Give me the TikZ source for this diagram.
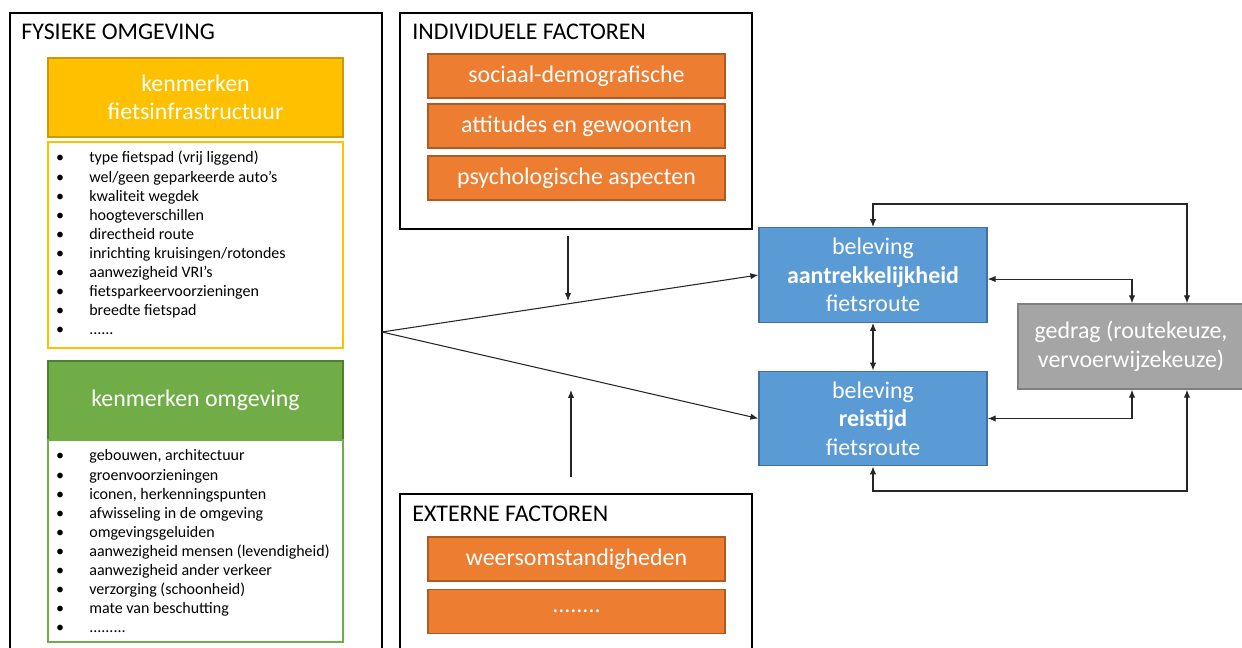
\documentclass[tikz,border=0pt]{standalone}
\usepackage{fontspec}
\setmainfont{Carlito}
\usetikzlibrary{fit,arrows.meta}
\definecolor{ylw}{HTML}{FFC000}
\definecolor{ylwb}{HTML}{C99A06}
\definecolor{grn}{HTML}{70AD47}
\definecolor{grnb}{HTML}{507E32}
\definecolor{org}{HTML}{ED7D31}
\definecolor{orgb}{HTML}{AE5A21}
\definecolor{blu}{HTML}{5B9BD5}
\definecolor{blub}{HTML}{41719C}
\definecolor{gry}{HTML}{A5A5A5}
\definecolor{gryb}{HTML}{7F7F7F}
\newcommand\mysixdots{......}
\newcommand\myninedots{.........}
\tikzset{
  big/.style={font=\fontsize{13.6}{16.2}\selectfont},
  small/.style={font=\fontsize{9.1}{10.9}\selectfont},
  frame/.style={draw=black, line width=1.1pt, fill=none, inner sep=0pt},
  colbox/.style={inner sep=0pt, line width=0.8pt, align=center, text=white, big},
  headbox/.style={colbox, minimum width=5.9cm, minimum height=1.58cm},
  orgbox/.style={colbox, fill=org, draw=orgb, minimum width=5.94cm, minimum height=0.88cm},
  blubox/.style={colbox, fill=blu, draw=blub, minimum width=4.56cm, minimum height=1.89cm},
  listbox/.style={inner sep=0pt, line width=0.9pt, fill=white},
  title/.style={anchor=base west, inner sep=0pt, big},
  conn/.style={line width=0.6pt, draw=black!85},
  tip/.style={-{Latex[length=4.5pt,width=3.6pt]}},
  tips/.style={{Latex[length=4.5pt,width=3.6pt]}-{Latex[length=4.5pt,width=3.6pt]}},
}
\begin{document}
\begin{tikzpicture}[x=0.02cm, y=-0.02cm]
\useasboundingbox (0,0) rectangle (1242,648);
\clip (0,0) rectangle (1242,648);
\fill[white] (0,0) rectangle (1242,648);

% outer frames
\node[frame, fit={(10,13)(382,700)}] (fys) {};
\node[frame, fit={(400,13)(752,229)}] (ind) {};
\node[frame, fit={(400,494)(752,700)}] (ext) {};
\node[title] (fyst) at (21,40) {FYSIEKE OMGEVING};
\node[title] (indt) at (412,40) {INDIVIDUELE FACTOREN};
\node[title] (extt) at (412,522) {EXTERNE FACTOREN};

% left column
\node[headbox, fill=ylw, draw=ylwb] (yh) at (195.5,97.5) {kenmerken\\fietsinfrastructuur};
\node[listbox, draw=ylw, fit={(48,142)(343,348)}] (yl) {};
\node[headbox, fill=grn, draw=grnb] (gh) at (195.5,400.5) {kenmerken omgeving};
\node[listbox, draw=grn, fit={(48,440)(343,642)}] (gl) {};

\foreach \t [count=\i] in {type fietspad (vrij liggend),
  wel/geen geparkeerde auto’s, kwaliteit wegdek, hoogteverschillen,
  directheid route, inrichting kruisingen/rotondes, aanwezigheid VRI’s,
  fietsparkeervoorzieningen, breedte fietspad, \mysixdots}{
  \node[small, anchor=base, inner sep=0pt] (yb\i) at (60,{163+19.05*(\i-1)}) {\textbullet};
  \node[small, anchor=base west, inner sep=0pt] (yt\i) at (89,{163+19.05*(\i-1)}) {\t};
}
\foreach \t [count=\i] in {{gebouwen, architectuur}, groenvoorzieningen,
  {iconen, herkenningspunten}, afwisseling in de omgeving, omgevingsgeluiden,
  aanwezigheid mensen (levendigheid), aanwezigheid ander verkeer,
  verzorging (schoonheid), mate van beschutting, \myninedots}{
  \node[small, anchor=base, inner sep=0pt] (gb\i) at (60,{461+19.1*(\i-1)}) {\textbullet};
  \node[small, anchor=base west, inner sep=0pt] (gt\i) at (89,{461+19.1*(\i-1)}) {\t};
}

% middle orange boxes
\node[orgbox] (o1) at (576.5,76) {sociaal-demografische};
\node[orgbox] (o2) at (576.5,126) {attitudes en gewoonten};
\node[orgbox] (o3) at (576.5,178) {psychologische aspecten};
\node[orgbox] (o4) at (576.5,559) {weersomstandigheden};
\node[orgbox] (o5) at (576.5,611.5) {\mysixdots..};

% right boxes
\node[blubox] (b1) at (873,275) {beleving\\\textbf{aantrekkelijkheid}\\fietsroute};
\node[blubox] (b2) at (873,418.5) {beleving\\\textbf{reistijd}\\fietsroute};
\node[colbox, fill=gry, draw=gryb, minimum width=4.52cm, minimum height=1.7cm] (g) at (1131,346.5) {gedrag (routekeuze,\\vervoerwijzekeuze)};

% connectors
\coordinate (src) at (382,332);
\draw[conn, tip] (src) -- (b1.west);
\draw[conn, tip] (src) -- (b2.west);
\coordinate (indout) at (568,236);
\coordinate (m1) at (568,301);
\draw[conn, tip] (indout) -- (m1);
\coordinate (extout) at (571,477);
\coordinate (m2) at (571,390);
\draw[conn, tip] (extout) -- (m2);

\coordinate (top) at (1187,204);
\coordinate (bot) at (1187,491);
\coordinate (mid) at (1132,0);
\draw[conn, tips] (b1.north) |- (top) -- (g.north -| top);
\draw[conn, tips] (b2.south) |- (bot) -- (g.south -| bot);
\draw[conn, tips] (b1.south) -- (b2.north);
\draw[conn, tips] ([yshift=-2.3pt]b1.east) -| (g.north -| mid);
\draw[conn, tips] (b2.east) -| (g.south -| mid);
\end{tikzpicture}
\end{document}
